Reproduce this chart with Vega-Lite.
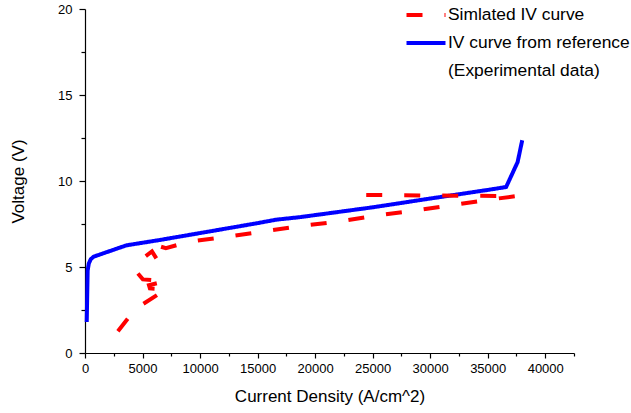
{
  "$schema": "https://vega.github.io/schema/vega-lite/v6.json",
  "width": 489,
  "height": 344,
  "autosize": {"type": "none"},
  "padding": {"left": 85, "top": 9, "right": 57, "bottom": 60},
  "background": "white",
  "config": {
    "view": {"stroke": null},
    "font": "Liberation Sans",
    "axis": {
      "grid": false,
      "domainColor": "black",
      "domainWidth": 1.2,
      "tickColor": "black",
      "tickWidth": 1.2,
      "labelColor": "black",
      "labelFont": "Liberation Sans",
      "labelFontSize": 13,
      "titleFont": "Liberation Sans",
      "titleFontSize": 17,
      "titleFontWeight": "normal",
      "titleColor": "black",
      "labelOverlap": false,
      "labelBound": false,
      "labelFlush": false
    }
  },
  "data": {
    "values": [
      {"s": "IV curve from reference", "i": 1, "x": 150, "y": 1.8},
      {"s": "IV curve from reference", "i": 2, "x": 230, "y": 4.8},
      {"s": "IV curve from reference", "i": 3, "x": 330, "y": 5.2},
      {"s": "IV curve from reference", "i": 4, "x": 500, "y": 5.45},
      {"s": "IV curve from reference", "i": 5, "x": 750, "y": 5.6},
      {"s": "IV curve from reference", "i": 6, "x": 3600, "y": 6.26},
      {"s": "IV curve from reference", "i": 7, "x": 6500, "y": 6.57},
      {"s": "IV curve from reference", "i": 8, "x": 15000, "y": 7.55},
      {"s": "IV curve from reference", "i": 9, "x": 16600, "y": 7.75},
      {"s": "IV curve from reference", "i": 10, "x": 18700, "y": 7.9},
      {"s": "IV curve from reference", "i": 11, "x": 25000, "y": 8.47},
      {"s": "IV curve from reference", "i": 12, "x": 30000, "y": 8.98},
      {"s": "IV curve from reference", "i": 13, "x": 35000, "y": 9.48},
      {"s": "IV curve from reference", "i": 14, "x": 36600, "y": 9.65},
      {"s": "IV curve from reference", "i": 15, "x": 37600, "y": 11.1},
      {"s": "IV curve from reference", "i": 16, "x": 38000, "y": 12.37},
      {"s": "Simlated IV curve", "i": 1, "x": 2860, "y": 1.26},
      {"s": "Simlated IV curve", "i": 2, "x": 4340, "y": 2.54},
      {"s": "Simlated IV curve", "i": 3, "x": 7030, "y": 3.7},
      {"s": "Simlated IV curve", "i": 4, "x": 5640, "y": 3.76},
      {"s": "Simlated IV curve", "i": 5, "x": 5560, "y": 3.94},
      {"s": "Simlated IV curve", "i": 6, "x": 6940, "y": 4.17},
      {"s": "Simlated IV curve", "i": 7, "x": 5030, "y": 4.28},
      {"s": "Simlated IV curve", "i": 8, "x": 4510, "y": 4.69},
      {"s": "Simlated IV curve", "i": 9, "x": 4560, "y": 5.27},
      {"s": "Simlated IV curve", "i": 10, "x": 5820, "y": 5.91},
      {"s": "Simlated IV curve", "i": 11, "x": 6420, "y": 5.27},
      {"s": "Simlated IV curve", "i": 12, "x": 6510, "y": 6.2},
      {"s": "Simlated IV curve", "i": 13, "x": 7030, "y": 6.09},
      {"s": "Simlated IV curve", "i": 14, "x": 9030, "y": 6.47},
      {"s": "Simlated IV curve", "i": 15, "x": 12330, "y": 6.76},
      {"s": "Simlated IV curve", "i": 16, "x": 15620, "y": 7.08},
      {"s": "Simlated IV curve", "i": 17, "x": 18920, "y": 7.4},
      {"s": "Simlated IV curve", "i": 18, "x": 22220, "y": 7.66},
      {"s": "Simlated IV curve", "i": 19, "x": 25560, "y": 8.02},
      {"s": "Simlated IV curve", "i": 20, "x": 28900, "y": 8.3},
      {"s": "Simlated IV curve", "i": 21, "x": 35500, "y": 8.95},
      {"s": "Simlated IV curve", "i": 22, "x": 37500, "y": 9.12},
      {"s": "Simlated IV curve", "i": 23, "x": 23700, "y": 9.19}
    ]
  },
  "mark": {"type": "line", "strokeWidth": 4, "strokeCap": "butt", "strokeJoin": "miter"},
  "encoding": {
    "x": {
      "field": "x",
      "type": "quantitative",
      "scale": {"domain": [0, 42500], "nice": false, "zero": false},
      "axis": {
        "title": "Current Density (A/cm^2)",
        "values": [0, 2500, 5000, 7500, 10000, 12500, 15000, 17500, 20000, 22500, 25000, 27500, 30000, 32500, 35000, 37500, 40000, 42500],
        "format": "d",
        "labelExpr": "datum.value % 5000 === 0 && datum.value <= 40000 ? datum.label : ''",
        "tickSize": {"condition": {"test": "datum.value % 5000 === 0", "value": 5}, "value": 3},
        "labelPadding": 4,
        "titleX": 244.5,
        "titleY": 43,
        "titleBaseline": "middle",
        "titleAlign": "center"
      }
    },
    "y": {
      "field": "y",
      "type": "quantitative",
      "scale": {"domain": [0, 20], "nice": false},
      "axis": {
        "title": "Voltage (V)",
        "values": [0, 2.5, 5, 7.5, 10, 12.5, 15, 17.5, 20],
        "labelExpr": "datum.value % 5 === 0 ? datum.label : ''",
        "tickSize": {"condition": {"test": "datum.value % 5 === 0", "value": 6}, "value": 4},
        "labelPadding": 7,
        "titleX": -67,
        "titleY": 172,
        "titleAngle": -90,
        "titleBaseline": "middle",
        "titleAlign": "center"
      }
    },
    "color": {
      "field": "s",
      "type": "nominal",
      "scale": {
        "domain": ["Simlated IV curve", "IV curve from reference", "(Experimental data)"],
        "range": ["#ff0000", "#0000ff", "transparent"]
      },
      "legend": {
        "title": null,
        "orient": "none",
        "legendX": 329,
        "legendY": -6,
        "padding": 0,
        "symbolType": "M-2,0H2",
        "symbolSize": 380,
        "symbolStrokeWidth": 4,
        "labelOffset": 10,
        "labelFont": "Liberation Sans",
        "labelFontSize": 17.4,
        "labelColor": "black",
        "labelLimit": 0,
        "rowPadding": 7
      }
    },
    "strokeDash": {
      "field": "s",
      "type": "nominal",
      "scale": {
        "domain": ["Simlated IV curve", "IV curve from reference", "(Experimental data)"],
        "range": [[16, 22], [1, 0], [1, 0]]
      },
      "legend": {
        "title": null,
        "orient": "none",
        "legendX": 329,
        "legendY": -6,
        "padding": 0,
        "symbolType": "M-2,0H2",
        "symbolSize": 380,
        "symbolStrokeWidth": 4,
        "labelOffset": 10,
        "labelFont": "Liberation Sans",
        "labelFontSize": 17.4,
        "labelColor": "black",
        "labelLimit": 0,
        "rowPadding": 7
      }
    },
    "order": {"field": "i", "type": "quantitative"}
  }
}
